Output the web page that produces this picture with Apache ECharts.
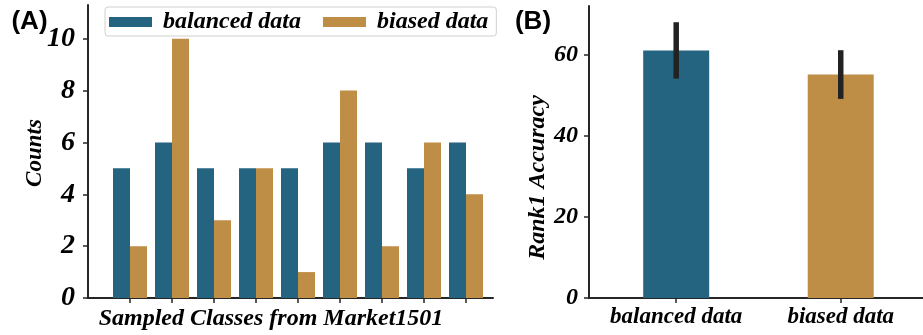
<!DOCTYPE html>
<html><head><meta charset="utf-8">
<script src="https://cdn.jsdelivr.net/npm/echarts@6/dist/echarts.min.js"></script>
<style>html,body{margin:0;padding:0;background:#fff}#c{width:923px;height:335px}</style>
</head><body><div id="c"></div>
<script>
// ---- data ----
const classIdx = [0, 1, 2, 3, 4, 5, 6, 7, 8];
const balancedCounts = [5, 6, 5, 5, 5, 6, 6, 5, 6];
const biasedCounts = [2, 10, 3, 5, 1, 8, 2, 6, 4];
const countTicks = [0, 2, 4, 6, 8, 10];
const groups = ['balanced data', 'biased data'];
const rank1Mean = [61.0, 55.1];
const rank1Low = [54.1, 49.1];
const rank1High = [68.0, 61.1];
const accTicks = [0, 20, 40, 60];
const groupIdx = [0, 1];

// ---- style ----
const TEAL = '#246480';
const GOLD = '#BF8E46';
const palette = [TEAL, GOLD];
const SERIF = "'Liberation Serif', 'Times New Roman', serif";
const axisLineStyle = { color: '#262626', width: 2 };
const tickStyle = { color: '#262626', width: 1.5 };
const serifText = (size) => ({ fontFamily: SERIF, fontStyle: 'italic', fontWeight: 'bold', fontSize: size, color: '#000' });

const chart = echarts.init(document.getElementById('c'), null, { renderer: 'canvas' });
chart.setOption({
  animation: false,
  backgroundColor: '#fff',
  grid: [
    { left: 88, top: 5, width: 405, bottom: 37 },
    { left: 589, top: 6, right: 0, bottom: 37 }
  ],
  legend: {
    data: groups,
    left: 105, top: 7,
    itemWidth: 43, itemHeight: 10, itemGap: 22,
    icon: 'rect',
    borderColor: '#d0d0d0', borderWidth: 1, borderRadius: 3,
    padding: [3, 8, 2, 4],
    textStyle: Object.assign(serifText(24), { padding: [0, 0, 0, 6] })
  },
  xAxis: [
    {
      gridIndex: 0, type: 'value', min: -1, max: -1 + 405 / 42,
      splitLine: { show: false },
      axisLine: { show: true, onZero: false, lineStyle: axisLineStyle },
      axisTick: { show: true, length: 5, lineStyle: tickStyle, customValues: classIdx },
      axisLabel: { show: false }
    },
    {
      gridIndex: 1, type: 'value', min: -0.53, max: 1.5,
      splitLine: { show: false },
      axisLine: { show: true, onZero: false, lineStyle: axisLineStyle },
      axisTick: { show: true, length: 5, lineStyle: tickStyle, customValues: groupIdx },
      axisLabel: Object.assign(serifText(23), {
        customValues: groupIdx, margin: 8,
        formatter: (v) => groups[Math.round(v)]
      })
    }
  ],
  yAxis: [
    {
      gridIndex: 0, type: 'value', min: 0, max: 11.3,
      splitLine: { show: false },
      axisLine: { show: true, onZero: false, lineStyle: axisLineStyle },
      axisTick: { show: true, length: 5, lineStyle: tickStyle, customValues: countTicks },
      axisLabel: Object.assign(serifText(28), { customValues: countTicks, margin: 13 })
    },
    {
      gridIndex: 1, type: 'value', min: 0, max: 72,
      splitLine: { show: false },
      axisLine: { show: true, onZero: false, lineStyle: axisLineStyle },
      axisTick: { show: true, length: 5, lineStyle: tickStyle, customValues: accTicks },
      axisLabel: Object.assign(serifText(24), { customValues: accTicks, margin: 11 })
    }
  ],
  series: [
    {
      name: groups[0], type: 'bar', xAxisIndex: 0, yAxisIndex: 0,
      barWidth: 17, barGap: '0%',
      itemStyle: { color: TEAL },
      data: classIdx.map((c, i) => [c, balancedCounts[i]])
    },
    {
      name: groups[1], type: 'bar', xAxisIndex: 0, yAxisIndex: 0,
      barWidth: 17, barGap: '0%',
      itemStyle: { color: GOLD },
      data: classIdx.map((c, i) => [c, biasedCounts[i]])
    },
    {
      name: 'Rank1', type: 'bar', xAxisIndex: 1, yAxisIndex: 1,
      barWidth: 66,
      data: groupIdx.map((g, i) => ({ value: [g, rank1Mean[i]], itemStyle: { color: palette[i] } }))
    },
    {
      name: 'err', type: 'custom', xAxisIndex: 1, yAxisIndex: 1,
      encode: { x: 0, y: [1, 2] },
      data: groupIdx.map((g, i) => [g, rank1Low[i], rank1High[i]]),
      renderItem: (params, api) => {
        const x = api.value(0);
        const p1 = api.coord([x, api.value(1)]);
        const p2 = api.coord([x, api.value(2)]);
        return {
          type: 'line',
          shape: { x1: p1[0], y1: p1[1], x2: p2[0], y2: p2[1] },
          style: { stroke: '#222', lineWidth: 5.5 }
        };
      },
      z: 5
    }
  ],
  graphic: [
    { type: 'text', x: 29.5, y: 22, style: { text: '(A)', fontFamily: "'Liberation Sans', Arial, sans-serif", fontWeight: 'bold', fontSize: 26, fill: '#000', align: 'center', verticalAlign: 'middle' } },
    { type: 'text', x: 533, y: 22, style: { text: '(B)', fontFamily: "'Liberation Sans', Arial, sans-serif", fontWeight: 'bold', fontSize: 26, fill: '#000', align: 'center', verticalAlign: 'middle' } },
    { type: 'text', x: 35, y: 153, rotation: Math.PI / 2, style: { text: 'Counts', align: 'center', verticalAlign: 'middle', fontFamily: SERIF, fontStyle: 'italic', fontWeight: 'bold', fontSize: 23, fill: '#000' } },
    { type: 'text', x: 538, y: 177.5, rotation: Math.PI / 2, style: { text: 'Rank1 Accuracy', align: 'center', verticalAlign: 'middle', fontFamily: SERIF, fontStyle: 'italic', fontWeight: 'bold', fontSize: 24, fill: '#000' } },
    { type: 'text', x: 271, y: 319, style: { text: 'Sampled Classes from Market1501', align: 'center', verticalAlign: 'middle', fontFamily: SERIF, fontStyle: 'italic', fontWeight: 'bold', fontSize: 24, fill: '#000' } }
  ]
});
</script>
</body></html>
